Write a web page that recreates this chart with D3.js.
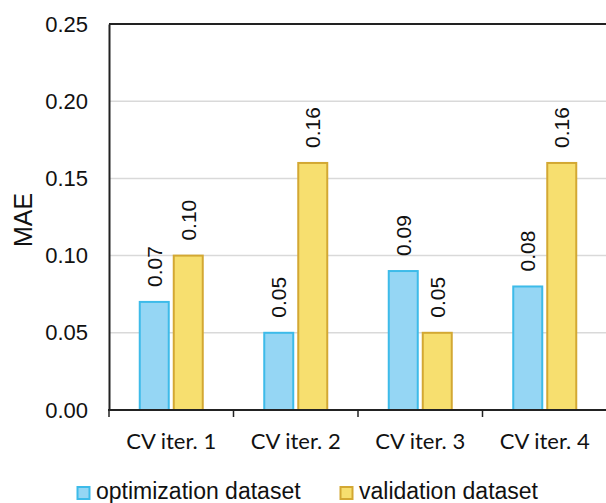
<!DOCTYPE html>
<html>
<head>
<meta charset="utf-8">
<script src="https://cdn.jsdelivr.net/npm/d3@7"></script>
<style>
  html, body { margin: 0; padding: 0; background: #fff; }
  svg { display: block; }
</style>
</head>
<body>
<svg id="chart" width="606" height="503"></svg>
<script>
// MAE per cross-validation iteration
const categories = ["CV iter. 1", "CV iter. 2", "CV iter. 3", "CV iter. 4"];
const seriesNames = ["optimization dataset", "validation dataset"];
const optimizationMAE = [0.07, 0.05, 0.09, 0.08];
const validationMAE = [0.10, 0.16, 0.05, 0.16];
const yTicks = [0.00, 0.05, 0.10, 0.15, 0.20, 0.25];

const colors = {
  fill: ["#95d6f4", "#f7df6f"],
  stroke: ["#3dbbe9", "#d3a833"]
};

const svg = d3.select("#chart");
const margin = { left: 109, right: -1, top: 24, bottom: 93 };
const W = 606, H = 503;
const x0 = margin.left, x1 = W - margin.right;
const yTop = margin.top, yBot = H - margin.bottom;

const x = d3.scaleBand().domain(categories).range([x0, x1]).paddingInner(0).paddingOuter(0);
const y = d3.scaleLinear().domain([0, 0.25]).range([yBot, yTop]);
const barW = 29, gap = 5;

// gridlines
svg.append("g")
  .selectAll("line")
  .data(yTicks.filter(t => t > 0 && t < 0.25))
  .join("line")
  .attr("x1", x0).attr("x2", x1)
  .attr("y1", d => y(d)).attr("y2", d => y(d))
  .attr("stroke", "#d9d9d9").attr("stroke-width", 1.5);

// top frame line
svg.append("line")
  .attr("x1", x0).attr("x2", x1)
  .attr("y1", y(0.25)).attr("y2", y(0.25))
  .attr("stroke", "#222").attr("stroke-width", 2);

// y axis
const yAxis = d3.axisLeft(y).tickValues(yTicks).tickFormat(d3.format(".2f")).tickSize(0).tickPadding(21);
const gy = svg.append("g").attr("transform", `translate(${x0},0)`).call(yAxis);
gy.select(".domain").attr("stroke", "#222").attr("stroke-width", 2);
gy.selectAll("text").attr("font-family", "Liberation Sans, Arial, sans-serif")
  .attr("font-size", 22).attr("fill", "#111");

// bars
const series = [optimizationMAE, validationMAE];
series.forEach((vals, s) => {
  svg.append("g").selectAll("rect")
    .data(categories.map((c, i) => ({ c, v: vals[i] })))
    .join("rect")
    .attr("x", d => x(d.c) + x.bandwidth() / 2 + (s === 0 ? -gap / 2 - barW : gap / 2))
    .attr("y", d => y(d.v))
    .attr("width", barW)
    .attr("height", d => y(0) - y(d.v))
    .attr("fill", colors.fill[s])
    .attr("stroke", colors.stroke[s])
    .attr("stroke-width", 2);

  // value labels
  svg.append("g").selectAll("text")
    .data(categories.map((c, i) => ({ c, v: vals[i] })))
    .join("text")
    .attr("transform", d => {
      const cx = x(d.c) + x.bandwidth() / 2 + (s === 0 ? -gap / 2 - barW / 2 : gap / 2 + barW / 2);
      return `translate(${cx},${y(d.v) - 15}) rotate(-90)`;
    })
    .attr("dy", "0.36em")
    .attr("font-family", "Liberation Sans, Arial, sans-serif")
    .attr("font-size", 21)
    .attr("fill", "#111")
    .text(d => d3.format(".2f")(d.v));
});

// x axis
const xTickPos = d3.range(categories.length + 1).map(i => x0 + i * x.bandwidth());
svg.append("line")
  .attr("x1", x0 - 1).attr("x2", x1)
  .attr("y1", yBot).attr("y2", yBot)
  .attr("stroke", "#222").attr("stroke-width", 2);
svg.append("g").selectAll("line")
  .data(xTickPos)
  .join("line")
  .attr("x1", d => d).attr("x2", d => d)
  .attr("y1", yBot).attr("y2", yBot + 7)
  .attr("stroke", "#222").attr("stroke-width", 1.5);
svg.append("g").selectAll("text")
  .data(categories)
  .join("text")
  .attr("x", d => x(d) + x.bandwidth() / 2)
  .attr("y", 449)
  .attr("text-anchor", "middle")
  .attr("font-family", "Lato, Carlito, sans-serif")
  .attr("font-size", 22)
  .attr("fill", "#111")
  .text(d => d);

// y axis title
svg.append("text")
  .attr("transform", `translate(23,220) rotate(-90)`)
  .attr("dy", "0.36em")
  .attr("text-anchor", "middle")
  .attr("font-family", "Liberation Sans, Arial, sans-serif")
  .attr("font-size", 25)
  .attr("fill", "#111")
  .text("MAE");

// legend
const legendX = [77, 340];
seriesNames.forEach((name, s) => {
  const g = svg.append("g").attr("transform", `translate(${legendX[s]},487)`);
  g.append("rect").attr("x", 0.5).attr("y", 0).attr("width", 12).attr("height", 12)
    .attr("fill", colors.fill[s]).attr("stroke", colors.stroke[s]).attr("stroke-width", 2);
  g.append("text").attr("x", 19).attr("y", 12)
    .attr("font-family", "Liberation Sans, Arial, sans-serif")
    .attr("font-size", 23).attr("fill", "#111")
    .text(name);
});
</script>
</body>
</html>
